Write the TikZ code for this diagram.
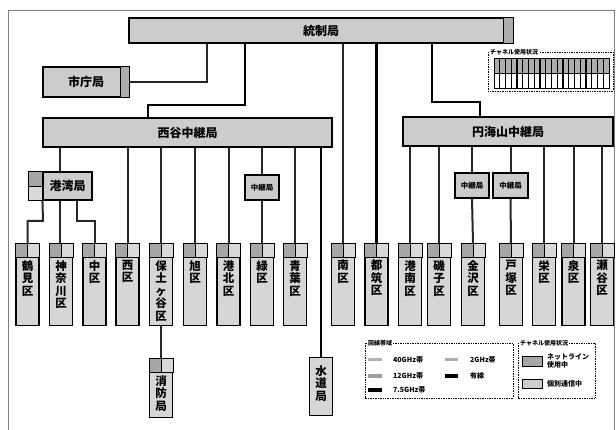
\documentclass[tikz,border=0pt]{standalone}
\usepackage{fontspec}
\setmainfont{Noto Sans CJK JP}
\usetikzlibrary{positioning}

% ward box with two cells on top and vertical name
\newcommand{\wardbox}[4]{%
  \node[ward] (#1) at (#2,#3) {};
  \draw[cell, fill=gray!70] (#1.north west) rectangle ([yshift=-14pt]#1.north);
  \draw[cell, fill=gray!30] (#1.north) rectangle ([yshift=-14pt]#1.north east);
  \node[wardtext] at ([yshift=-17pt]#1.north) {#4};
}

\begin{document}
\begin{tikzpicture}[x=1pt, y=-1pt,
  main/.style={draw, line width=1.1pt, fill=gray!40, inner sep=0pt, font=\bfseries\fontsize{12}{12}\selectfont},
  relay/.style={draw, line width=1.1pt, fill=gray!40, inner sep=0pt, minimum height=25pt, font=\bfseries\fontsize{7.5}{8}\selectfont},
  ward/.style={draw, line width=1.1pt, fill=gray!32, inner sep=0pt, minimum width=23pt, minimum height=82pt, anchor=north},
  cell/.style={line width=0.8pt},
  wardtext/.style={anchor=north, inner sep=0pt, align=center, font=\bfseries\fontsize{11.5}{12.5}\selectfont},
  link/.style={line width=2pt, black!85},
  wire/.style={line width=2.6pt, black},
  legend/.style={draw, densely dotted, line width=0.7pt},
  legendtitle/.style={fill=white, inner sep=1pt, anchor=west, font=\bfseries\fontsize{6}{6}\selectfont},
  legendtext/.style={inner sep=0pt, anchor=west, align=left, font=\bfseries\fontsize{7}{7.5}\selectfont}]
\useasboundingbox (0,0) rectangle (616,430);
\draw[line width=0.6pt, gray] (8,430) -- (8,10) -- (614,10) -- (614,430);

% top level
\node[main, minimum width=384pt, minimum height=25pt] (tosei) at (321,30.5) {統制局};
\draw[line width=1.1pt, fill=gray!65] ([xshift=-10pt]tosei.north east) rectangle (tosei.south east);
\node[main, minimum width=86pt, minimum height=30pt] (shicho) at (86,82) {市庁局};
\draw[line width=1.1pt, fill=gray!65] ([xshift=-9pt]shicho.north east) rectangle (shicho.south east);

% relay stations
\node[main, minimum width=289pt, minimum height=29pt] (nishiya) at (187.5,132.5) {西谷中継局};
\node[main, minimum width=210pt, minimum height=29pt] (enkai) at (508,131.5) {円海山中継局};
\node[main, minimum width=49pt, minimum height=28pt] (kowan) at (67.5,186) {港湾局};
\draw[cell, fill=gray!70] ([xshift=-14pt]kowan.north west) rectangle (kowan.west);
\draw[cell, fill=gray!30] ([xshift=-14pt]kowan.west) rectangle (kowan.south west);
\node[relay, minimum width=34pt] (relayA) at (262,187.5) {中継局};
\node[relay, minimum width=34pt] (relayB) at (472,185.5) {中継局};
\node[relay, minimum width=35pt] (relayC) at (510.5,185.5) {中継局};

% wards
\wardbox{tsurumi}{27.5}{243}{鶴\\見\\区}
\wardbox{kanagawa}{61}{243}{神\\奈\\川\\区}
\wardbox{naka}{94.5}{243}{中\\区}
\wardbox{nishi}{127.5}{243}{西\\区}
\wardbox{hodogaya}{161}{243}{保\\土\\ヶ\\谷\\区}
\wardbox{asahi}{195}{243}{旭\\区}
\wardbox{kohoku}{228.5}{243}{港\\北\\区}
\wardbox{midori}{262}{243}{緑\\区}
\wardbox{aoba}{295}{243}{青\\葉\\区}
\wardbox{minami}{343}{243}{南\\区}
\wardbox{tsuzuki}{376.5}{243}{都\\筑\\区}
\wardbox{konan}{410}{243}{港\\南\\区}
\wardbox{isogo}{439}{243}{磯\\子\\区}
\wardbox{kanazawa}{473}{243}{金\\沢\\区}
\wardbox{totsuka}{511}{243}{戸\\塚\\区}
\wardbox{sakae}{544}{243}{栄\\区}
\wardbox{izumi}{573.5}{243}{泉\\区}
\wardbox{seya}{602}{243}{瀬\\谷\\区}
\node[ward, minimum height=59pt] (shobo) at (161,358) {};
\draw[cell, fill=gray!70] (shobo.north west) rectangle ([yshift=-14pt]shobo.north);
\draw[cell, fill=gray!30] (shobo.north) rectangle ([yshift=-14pt]shobo.north east);
\node[wardtext] at ([yshift=-17pt]shobo.north) {消\\防\\局};
\node[ward, minimum height=58pt] (suido) at (321,357) {};
\node[wardtext] at ([yshift=-8pt]suido.north) {水\\道\\局};

% links from 統制局
\draw[link] (tosei.south -| 207,0) |- (shicho.east);
\draw[wire] (tosei.south -| 245,0) |- (148,105) -- (nishiya.north -| 148,0);
\draw[wire] (tosei.south -| 432,0) |- (480,102) -- (enkai.north -| 480,0);
\draw[link] (minami.north) -- (minami.north |- tosei.south);
\draw[wire] (tsuzuki.north) -- (tsuzuki.north |- tosei.south);

% links from 西谷中継局
\draw[link] (kowan.north -| 60,0) -- (nishiya.south -| 60,0);
\foreach \w in {nishi, hodogaya, asahi, kohoku, aoba}
  \draw[link] (\w.north) -- (\w.north |- nishiya.south);
\draw[link] (relayA) -- (relayA |- nishiya.south);
\draw[link] (midori.north) -- (relayA.south);
\draw[wire] (suido.north) -- (suido.north |- nishiya.south);
\draw[link] (shobo.north) -- (hodogaya.south);

% links from 港湾局
\draw[link] (tsurumi.north) |- (43,221) -- (kowan.south west);
\draw[link] (kanagawa.north -| 60,0) -- (kowan.south -| 60,0);
\draw[link] (naka.north) |- (77,221) -- (kowan.south -| 77,0);

% links from 円海山中継局
\foreach \w in {konan, isogo, sakae, izumi, seya}
  \draw[link] (\w.north) -- (\w.north |- enkai.south);
\draw[link] (relayB) -- (relayB |- enkai.south);
\draw[link] (relayC) -- (relayC |- enkai.south);
\draw[link] (kanazawa.north) -- (relayB.south);
\draw[link] (totsuka.north) -- (relayC.south);

% channel usage panel
\draw[legend] (488,52) rectangle (613,91);
\node[legendtitle] at (489,52) {チャネル使用状況};
\fill[gray!65] (494,58) rectangle (609,73);
\draw[line width=0.9pt] (494,58) rectangle (609,88);
\draw[line width=0.7pt] (494,73) -- (609,73);
\foreach \i in {1,...,19}
  \draw[line width=1.2pt] (494+\i*5.75,58) -- (494+\i*5.75,88);

% legend: bands
\draw[legend] (365,343) rectangle (513,398);
\node[legendtitle] at (367,343) {回線帯域};
\draw[line width=3pt, gray!60] (368,360) -- (382,360);
\node[legendtext] at (393,360) {40GHz帯};
\draw[line width=3pt, gray!75] (368,376) -- (382,376);
\node[legendtext] at (393,376) {12GHz帯};
\draw[line width=3.5pt, black] (368,390) -- (382,390);
\node[legendtext] at (393,390) {7.5GHz帯};
\draw[line width=3pt, gray!65] (445,360) -- (458,360);
\node[legendtext] at (470,360) {2GHz帯};
\draw[line width=3.5pt, black] (445,376) -- (458,376);
\node[legendtext] at (470,376) {有線};

% legend: channel usage
\draw[legend] (518,343) rectangle (595,398);
\node[legendtitle] at (519,343) {チャネル使用状況};
\draw[line width=0.7pt, fill=gray!70] (522,356) rectangle (542,366);
\node[legendtext] at (547,361) {ネットライン\\使用中};
\draw[line width=0.7pt, fill=gray!40] (522,379) rectangle (542,388);
\node[legendtext] at (547,383.5) {個別通信中};
\end{tikzpicture}
\end{document}
